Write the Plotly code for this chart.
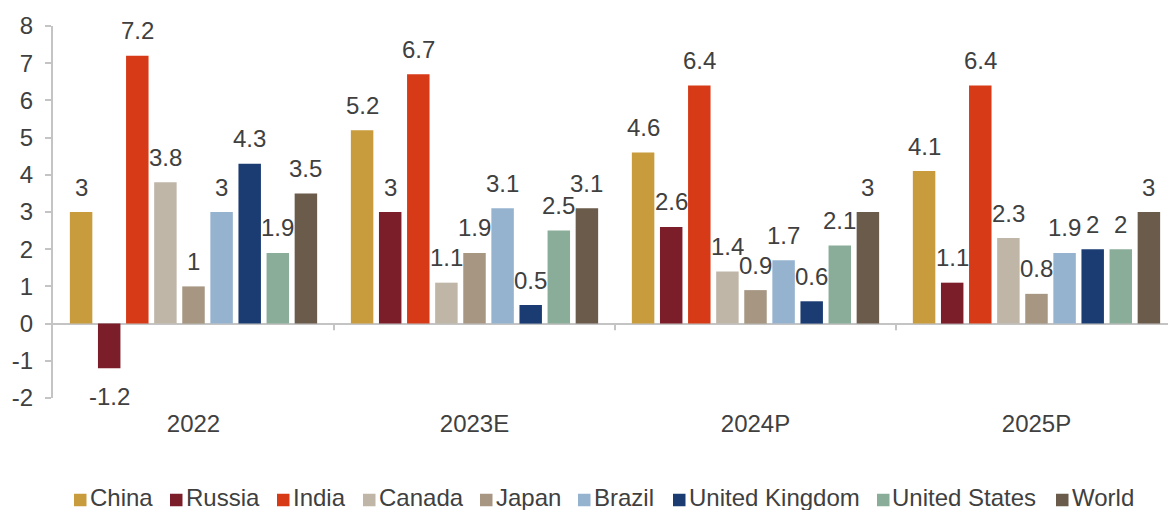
import plotly.graph_objects as go

# Periods on the category axis
periods = ["2022", "2023E", "2024P", "2025P"]

# GDP growth (%) by economy and period
china = [3, 5.2, 4.6, 4.1]
russia = [-1.2, 3, 2.6, 1.1]
india = [7.2, 6.7, 6.4, 6.4]
canada = [3.8, 1.1, 1.4, 2.3]
japan = [1, 1.9, 0.9, 0.8]
brazil = [3, 3.1, 1.7, 1.9]
united_kingdom = [4.3, 0.5, 0.6, 2]
united_states = [1.9, 2.5, 2.1, 2]
world = [3.5, 3.1, 3, 3]

# Value-axis ticks (plain hyphen for negatives)
y_tick_values = [-2, -1, 0, 1, 2, 3, 4, 5, 6, 7, 8]
y_tick_text = ["-2", "-1", "0", "1", "2", "3", "4", "5", "6", "7", "8"]

series = [
    ("China", china, "#C89B3C"),
    ("Russia", russia, "#7B1E2A"),
    ("India", india, "#D63A17"),
    ("Canada", canada, "#BFB6A8"),
    ("Japan", japan, "#A69682"),
    ("Brazil", brazil, "#95B3CF"),
    ("United Kingdom", united_kingdom, "#1B3C73"),
    ("United States", united_states, "#8AAD9A"),
    ("World", world, "#6A5B4A"),
]

FONT = "Liberation Sans, Arial, sans-serif"
TEXT_COLOR = "#404040"
AXIS_COLOR = "#C4C4C4"
FS = 24

# plot-area geometry in pixels
W, H = 1168, 513
ML, MR, MT, MB = 53, 0, 26, 115
PW, PH = W - ML - MR, H - MT - MB

BARGAP = 0.1
BARGROUPGAP = 0.2
n_series = len(series)
slot = (1 - BARGAP) / n_series

fig = go.Figure()
for i, (name, vals, color) in enumerate(series):
    fig.add_trace(go.Bar(
        name=name,
        x=periods,
        y=vals,
        marker=dict(color=color, line=dict(width=0)),
        showlegend=False,
    ))
    # value labels placed over each bar's own slot in the group
    offset = (i - (n_series - 1) / 2) * slot
    for k, v in enumerate(vals):
        fig.add_annotation(
            x=k + offset, y=v, xref="x", yref="y",
            text=f"{v:g}", showarrow=False,
            yanchor="middle", xanchor="center",
            yshift=25 if v >= 0 else -28,
            font=dict(family=FONT, size=FS, color=TEXT_COLOR),
        )

# small separator ticks hanging below the zero line between periods
for b in [0.5, 1.5, 2.5]:
    fig.add_shape(type="line", xref="x", yref="y",
                  x0=b, x1=b, y0=0, y1=-0.18,
                  line=dict(color=AXIS_COLOR, width=2))

# legend row drawn as colour squares with labels
legend_left_px = [74, 170, 277, 363, 480, 578, 673, 877, 1056]
legend_sq = 12.5
legend_cy = 500
legend_text_cy = 497
for (name, _, color), px in zip(series, legend_left_px):
    x0 = (px - ML) / PW
    x1 = (px + legend_sq - ML) / PW
    y0 = (MT + PH - (legend_cy + legend_sq / 2)) / PH
    y1 = (MT + PH - (legend_cy - legend_sq / 2)) / PH
    fig.add_shape(type="rect", xref="paper", yref="paper",
                  x0=x0, x1=x1, y0=y0, y1=y1,
                  fillcolor=color, line=dict(width=0))
    fig.add_annotation(
        x=(px + legend_sq + 1 - ML) / PW, y=(MT + PH - legend_text_cy) / PH,
        xref="paper", yref="paper", xanchor="left", yanchor="middle",
        text=name, showarrow=False, height=26, valign="middle",
        font=dict(family=FONT, size=FS, color=TEXT_COLOR),
    )

fig.update_layout(
    width=W,
    height=H,
    margin=dict(l=ML, r=MR, t=MT, b=MB),
    paper_bgcolor="white",
    plot_bgcolor="white",
    barmode="group",
    bargap=BARGAP,
    bargroupgap=BARGROUPGAP,
    font=dict(family=FONT, size=FS, color=TEXT_COLOR),
    showlegend=False,
    xaxis=dict(
        range=[-0.5, 3.468],
        showgrid=False,
        showline=False,
        zeroline=False,
        ticks="outside",
        ticklen=4,
        tickcolor="rgba(0,0,0,0)",
        tickfont=dict(family=FONT, size=FS, color=TEXT_COLOR),
    ),
    yaxis=dict(
        range=[-2, 8],
        tickvals=y_tick_values,
        ticktext=y_tick_text,
        showgrid=False,
        showline=True,
        linecolor=AXIS_COLOR,
        linewidth=2,
        ticks="outside",
        ticklen=6,
        tickwidth=2,
        tickcolor=AXIS_COLOR,
        ticklabelstandoff=7,
        zeroline=True,
        zerolinecolor=AXIS_COLOR,
        zerolinewidth=2,
        tickfont=dict(family=FONT, size=FS, color=TEXT_COLOR),
    ),
)

fig.write_html("out.html")
